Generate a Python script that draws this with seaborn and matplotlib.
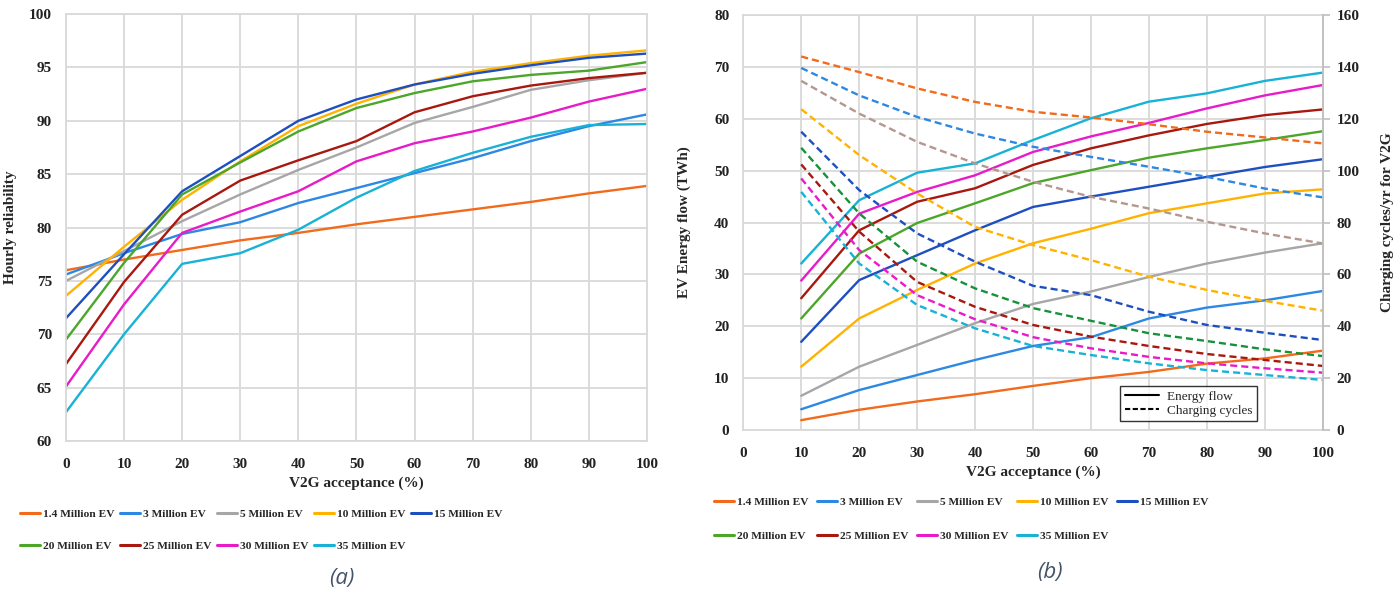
import numpy as np
import pandas as pd
import matplotlib
matplotlib.use("Agg")
import matplotlib.pyplot as plt
from matplotlib.lines import Line2D
import seaborn as sns

# ---- data -------------------------------------------------------------
fleet_labels = ["1.4 Million EV", "3 Million EV", "5 Million EV", "10 Million EV",
                "15 Million EV", "20 Million EV", "25 Million EV", "30 Million EV",
                "35 Million EV"]

# (a) hourly reliability vs V2G acceptance
acceptance_a = [0, 10, 20, 30, 40, 50, 60, 70, 80, 90, 100]
rel_1_4M = [76.0, 77.0, 77.9, 78.8, 79.5, 80.3, 81.0, 81.7, 82.4, 83.2, 83.9]
rel_3M   = [75.6, 77.6, 79.4, 80.5, 82.3, 83.7, 85.1, 86.5, 88.1, 89.5, 90.6]
rel_5M   = [75.0, 77.8, 80.6, 83.1, 85.4, 87.5, 89.8, 91.3, 92.9, 93.8, 94.5]
rel_10M  = [73.6, 78.2, 82.6, 86.2, 89.5, 91.6, 93.4, 94.6, 95.4, 96.1, 96.6]
rel_15M  = [71.5, 77.5, 83.4, 86.7, 90.0, 92.0, 93.4, 94.4, 95.2, 95.9, 96.3]
rel_20M  = [69.5, 76.7, 83.1, 86.1, 89.0, 91.2, 92.6, 93.7, 94.3, 94.7, 95.5]
rel_25M  = [67.2, 74.9, 81.2, 84.4, 86.3, 88.1, 90.8, 92.3, 93.3, 94.0, 94.5]
rel_30M  = [65.1, 72.8, 79.5, 81.5, 83.4, 86.2, 87.9, 89.0, 90.3, 91.8, 93.0]
rel_35M  = [62.7, 70.0, 76.6, 77.6, 79.8, 82.8, 85.3, 87.0, 88.5, 89.6, 89.7]

# (b) energy flow (TWh, left axis) and charging cycles (cycles/yr, right axis)
acceptance_b = [10, 20, 30, 40, 50, 60, 70, 80, 90, 100]
flow_1_4M = [1.9, 3.9, 5.5, 6.9, 8.5, 10.0, 11.2, 12.8, 13.8, 15.3]
flow_3M   = [4.0, 7.7, 10.6, 13.5, 16.2, 17.9, 21.5, 23.6, 25.0, 26.8]
flow_5M   = [6.6, 12.2, 16.4, 20.6, 24.3, 26.7, 29.5, 32.1, 34.2, 36.0]
flow_10M  = [12.2, 21.5, 27.0, 32.1, 36.0, 38.8, 41.8, 43.7, 45.6, 46.4]
flow_15M  = [17.0, 28.9, 33.7, 38.5, 43.0, 45.0, 46.9, 48.8, 50.7, 52.2]
flow_20M  = [21.5, 34.0, 39.9, 43.7, 47.6, 50.1, 52.5, 54.3, 55.9, 57.6]
flow_25M  = [25.4, 38.5, 44.0, 46.6, 51.1, 54.3, 56.8, 59.0, 60.7, 61.8]
flow_30M  = [28.8, 41.7, 45.9, 49.1, 53.6, 56.6, 59.2, 62.0, 64.5, 66.5]
flow_35M  = [32.1, 44.3, 49.6, 51.4, 55.9, 60.1, 63.3, 64.9, 67.3, 68.9]

cyc_1_4M = [144.0, 138.0, 131.7, 126.5, 122.7, 120.5, 117.9, 115.0, 112.8, 110.5]
cyc_3M   = [139.6, 129.0, 120.7, 114.3, 109.2, 105.3, 101.5, 97.6, 93.1, 89.7]
cyc_5M   = [134.6, 122.0, 111.1, 102.8, 95.7, 89.9, 85.4, 80.3, 75.8, 71.9]
cyc_10M  = [123.7, 106.0, 91.2, 78.3, 71.3, 65.5, 59.1, 54.0, 49.8, 46.0]
cyc_15M  = [115.0, 92.5, 75.8, 64.9, 55.6, 52.0, 45.6, 40.5, 37.5, 34.7]
cyc_20M  = [108.8, 83.5, 64.9, 54.6, 47.0, 42.1, 37.3, 34.3, 31.1, 28.5]
cyc_25M  = [102.4, 76.5, 57.1, 47.5, 40.5, 36.0, 32.4, 29.3, 27.0, 24.7]
cyc_30M  = [97.0, 69.4, 52.0, 42.7, 35.8, 31.5, 28.2, 25.7, 23.8, 22.1]
cyc_35M  = [91.8, 64.2, 48.2, 39.2, 32.4, 28.9, 25.7, 23.1, 21.2, 19.3]

reliability = [rel_1_4M, rel_3M, rel_5M, rel_10M, rel_15M, rel_20M, rel_25M, rel_30M, rel_35M]
energy_flow = [flow_1_4M, flow_3M, flow_5M, flow_10M, flow_15M, flow_20M, flow_25M, flow_30M, flow_35M]
charging_cycles = [cyc_1_4M, cyc_3M, cyc_5M, cyc_10M, cyc_15M, cyc_20M, cyc_25M, cyc_30M, cyc_35M]

# ---- styling ----------------------------------------------------------
line_colors = ["#F26A1B", "#2C88E3", "#A6A6A6", "#FFB200", "#1E4FC0",
               "#4BA629", "#A8180F", "#E81BC9", "#18B2D6"]
dash_colors = ["#F26A1B", "#2C88E3", "#B4978F", "#FFB200", "#1E4FC0",
               "#17913A", "#A8180F", "#E81BC9", "#18B2D6"]
grid_color = "#D9D9D9"
serif = "Liberation Serif"
LW = 1.7

sns.set_theme(style="white")
plt.rcParams["font.family"] = [serif, "DejaVu Serif"]
plt.rcParams["font.weight"] = "bold"

fig = plt.figure(figsize=(13.94, 5.96), dpi=100)
ax_a = fig.add_axes([0.0473, 0.260, 0.4168, 0.7164])
ax_b = fig.add_axes([0.5332, 0.2785, 0.4157, 0.6963])


def style_axes(ax):
    ax.grid(True, color=grid_color, linewidth=1.3)
    ax.set_axisbelow(True)
    for s in ax.spines.values():
        s.set_color(grid_color)
        s.set_linewidth(1.3)
    ax.tick_params(axis="both", length=0, labelsize=11, colors="#222222")
    for lab in ax.get_xticklabels() + ax.get_yticklabels():
        lab.set_fontweight("bold")


def long_frame(xs, series):
    return pd.DataFrame({
        "acceptance": np.tile(xs, len(fleet_labels)),
        "value": np.concatenate(series),
        "fleet": np.repeat(fleet_labels, len(xs)),
    })


# ---- (a) --------------------------------------------------------------
sns.lineplot(data=long_frame(acceptance_a, reliability), x="acceptance", y="value",
             hue="fleet", hue_order=fleet_labels, palette=line_colors,
             linewidth=LW, legend=False, ax=ax_a)
ax_a.set_xlim(0, 100)
ax_a.set_ylim(60, 100)
ax_a.set_xticks(range(0, 101, 10))
ax_a.set_yticks(range(60, 101, 5))
style_axes(ax_a)
ax_a.tick_params(axis="x", pad=12)
ax_a.tick_params(axis="y", pad=10)
ax_a.set_xlabel("V2G acceptance (%)", fontsize=11, fontweight="bold", labelpad=4)
ax_a.set_ylabel("Hourly reliability", fontsize=11, fontweight="bold")
ax_a.yaxis.set_label_coords(-0.084, 0.5)

# ---- (b) --------------------------------------------------------------
ax_c = ax_b.twinx()
sns.lineplot(data=long_frame(acceptance_b, charging_cycles), x="acceptance", y="value",
             hue="fleet", hue_order=fleet_labels, palette=dash_colors,
             linewidth=LW, legend=False, ax=ax_c)
for ln in ax_c.get_lines():
    ln.set_linestyle((0, (3.0, 1.7)))
sns.lineplot(data=long_frame(acceptance_b, energy_flow), x="acceptance", y="value",
             hue="fleet", hue_order=fleet_labels, palette=line_colors,
             linewidth=LW, legend=False, ax=ax_b)

ax_b.set_xlim(0, 100)
ax_b.set_ylim(0, 80)
ax_c.set_ylim(0, 160)
ax_b.set_xticks(range(0, 101, 10))
ax_b.set_yticks(range(0, 81, 10))
ax_c.set_yticks(range(0, 161, 20))
style_axes(ax_b)
ax_b.tick_params(axis="x", pad=12)
ax_b.tick_params(axis="y", pad=10)
ax_c.grid(False)
for s in ax_c.spines.values():
    s.set_visible(False)
ax_c.spines["right"].set_visible(True)
ax_c.spines["right"].set_color("#BFBFBF")
ax_c.spines["right"].set_linewidth(1.3)
ax_c.tick_params(axis="y", length=5, width=1.2, color="#BFBFBF", labelsize=11,
                 labelcolor="#222222", pad=5)
for lab in ax_c.get_yticklabels():
    lab.set_fontweight("bold")
ax_b.set_xlabel("V2G acceptance (%)", fontsize=11, fontweight="bold", labelpad=4)
ax_b.set_ylabel("EV Energy flow (TWh)", fontsize=11, fontweight="bold")
ax_b.yaxis.set_label_coords(-0.091, 0.5)
ax_c.set_ylabel("Charging cycles/yr for V2G", fontsize=11, fontweight="bold")
ax_c.yaxis.set_label_coords(1.100, 0.5)

style_handles = [Line2D([], [], color="black", lw=1.5, linestyle="-"),
                 Line2D([], [], color="black", lw=1.5, linestyle=(0, (2.5, 1.2)))]
leg_style = ax_c.legend(style_handles, ["Energy flow", "Charging cycles"],
                        loc="lower right", bbox_to_anchor=(0.898, 0.005),
                        frameon=True, fancybox=False, edgecolor="black",
                        handlelength=2.6, handletextpad=0.6, labelspacing=0.15,
                        borderpad=0.35,
                        prop={"family": serif, "size": 9.5, "weight": "normal"})
leg_style.get_frame().set_linewidth(1.0)

# ---- shared fleet legends (filled row by row, five per row) -----------
ncols = 5
order = [i for col in range(ncols) for i in (col, col + ncols) if i < len(fleet_labels)]
fleet_handles = [Line2D([], [], color=line_colors[i], lw=2.2) for i in order]
fleet_texts = [fleet_labels[i] for i in order]
for anchor, spacing, colsp in [((0.0105, 0.155), 1.95, 0.5), ((0.5080, 0.176), 2.12, 0.78)]:
    fig.legend(fleet_handles, fleet_texts, loc="upper left", bbox_to_anchor=anchor,
               ncol=ncols, frameon=False, handlelength=1.75, handletextpad=0.25,
               columnspacing=colsp, labelspacing=spacing, borderpad=0.0,
               prop={"family": serif, "size": 8.2, "weight": "bold"})

# ---- panel captions ---------------------------------------------------
for xpos, ypos, txt in [(0.2453, 0.030, "(a)"), (0.7532, 0.040, "(b)")]:
    fig.text(xpos, ypos, txt, ha="center", va="center", fontsize=16,
             style="italic", fontweight="normal", color="#44546A",
             family=["Open Sans", "DejaVu Sans"])

fig.savefig("out.png", dpi=100)
